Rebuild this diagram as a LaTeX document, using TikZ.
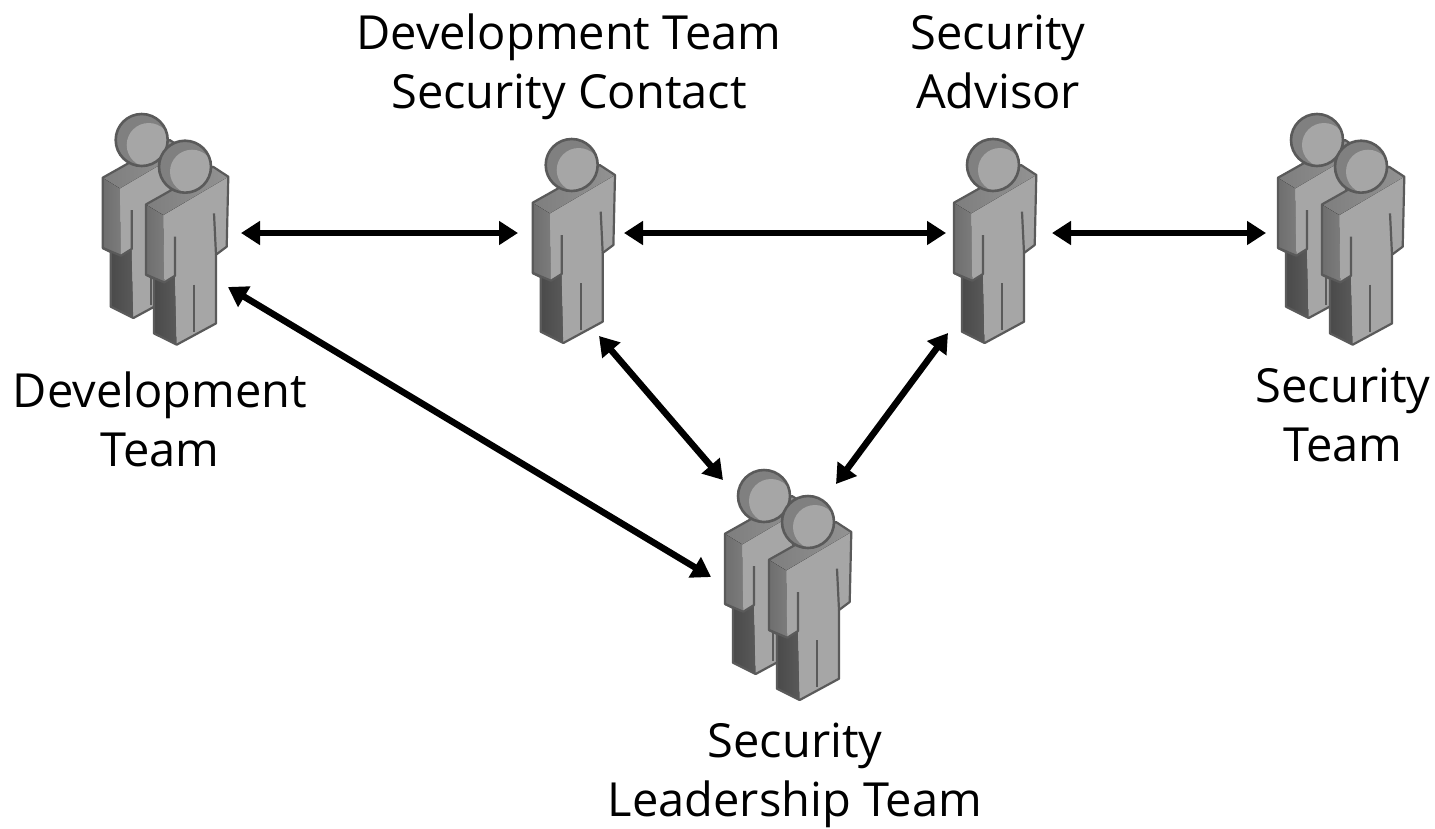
\documentclass[tikz,border=0pt]{standalone}
\usepackage{fontspec}
\setmainfont{Open Sans}
\usetikzlibrary{arrows.meta}
\definecolor{edge}{HTML}{5A5A5A}
\definecolor{front}{HTML}{A6A6A6}
\definecolor{topdark}{HTML}{7E7E7E}
\definecolor{armside}{HTML}{6E6E6E}
\definecolor{armlight}{HTML}{7C7C7C}
\definecolor{legside}{HTML}{4A4A4A}
\definecolor{legdark}{HTML}{606060}
\definecolor{headdark}{HTML}{808080}
\tikzset{
  x=1pt,y=-1pt,
  outline/.style={draw=edge,line width=2.2pt,line join=round},
  label/.style={font=\fontsize{47}{59}\selectfont,align=center,text=black,inner sep=0pt},
  link/.style={line width=6.5pt,{Triangle[length=19pt,width=23pt]}-{Triangle[length=19pt,width=23pt]}},
  person/.pic={
    % leg side
    \fill[left color=legside,right color=legdark!70!legside]
      (-31,112)--(-10,109)--(-8.3,178)--(-31,166.7)--cycle;
    % arm side
    \fill[left color=armside,right color=armlight]
      (-39,37.7)--(-21.7,48.3)--(-20.7,115.7)--(-39,108)--cycle;
    % front
    \fill[front]
      (-21.7,48.3)--(43.3,10)--(41.7,80)--(31,88)--(31,156.7)--(-8.3,178)--(-10,109)--(-20.7,115.7)--cycle;
    % shoulder top
    \fill[left color=topdark,right color=front!88!black]
      (-39,37.7)--(-21.7,48.3)--(43.3,10)--(28,0)--cycle;
    % silhouette
    \draw[outline]
      (-39,37.7)--(28,0)--(43.3,10)--(41.7,80)--(31,88)--(31,156.7)--(-8.3,178)--(-31,166.7)--(-31,112)--(-39,108)--cycle;
    % inner details
    \draw[outline] (-39,108)--(-20.7,115.7)--(-10,109)--(-10,70);
    \draw[outline] (29,46.7)--(31,88);
    \draw[outline] (9.3,118)--(9.3,165);
    \fill[headdark] (0,0) circle (26);
    \begin{scope}
      \clip (0,0) circle (26);
      \fill[front] (7,5) circle (22);
    \end{scope}
    \draw[outline,line width=2.6pt] (0,0) circle (26);
  }
}
\begin{document}
\begin{tikzpicture}
\useasboundingbox (0,0) rectangle (1435,828);
% people
\pic at (141.7,140) {person};
\pic at (185,166.7) {person};
\pic at (571.7,165) {person};
\pic at (993,165) {person};
\pic at (1317,140) {person};
\pic at (1361,166.7) {person};
\pic at (764,496) {person};
\pic at (808,522) {person};
% labels
\node[label] (devteam) at (160,419) {Development\\Team};
\node[label] (contact) at (569,67) {Development Team\\Security Contact};
\node[label] (advisor) at (998,62) {Security\\Advisor};
\node[label] (secteam) at (1343,415) {Security\\Team};
\node[label] (leaders) at (795,775) {Security\\Leadership Team};
% connector ends
\coordinate (a1) at (241,233);
\coordinate (a2) at (518,233);
\coordinate (b1) at (624,233);
\coordinate (b2) at (946,233);
\coordinate (c1) at (1052,233);
\coordinate (c2) at (1266,233);
\coordinate (d1) at (228,287);
\coordinate (d2) at (711,577);
\coordinate (e1) at (599,336);
\coordinate (e2) at (723,480);
\coordinate (f1) at (948,333);
\coordinate (f2) at (836,484);
\draw[link] (a1) -- (a2);
\draw[link] (b1) -- (b2);
\draw[link] (c1) -- (c2);
\draw[link] (d1) -- (d2);
\draw[link] (e1) -- (e2);
\draw[link] (f1) -- (f2);
\end{tikzpicture}
\end{document}
